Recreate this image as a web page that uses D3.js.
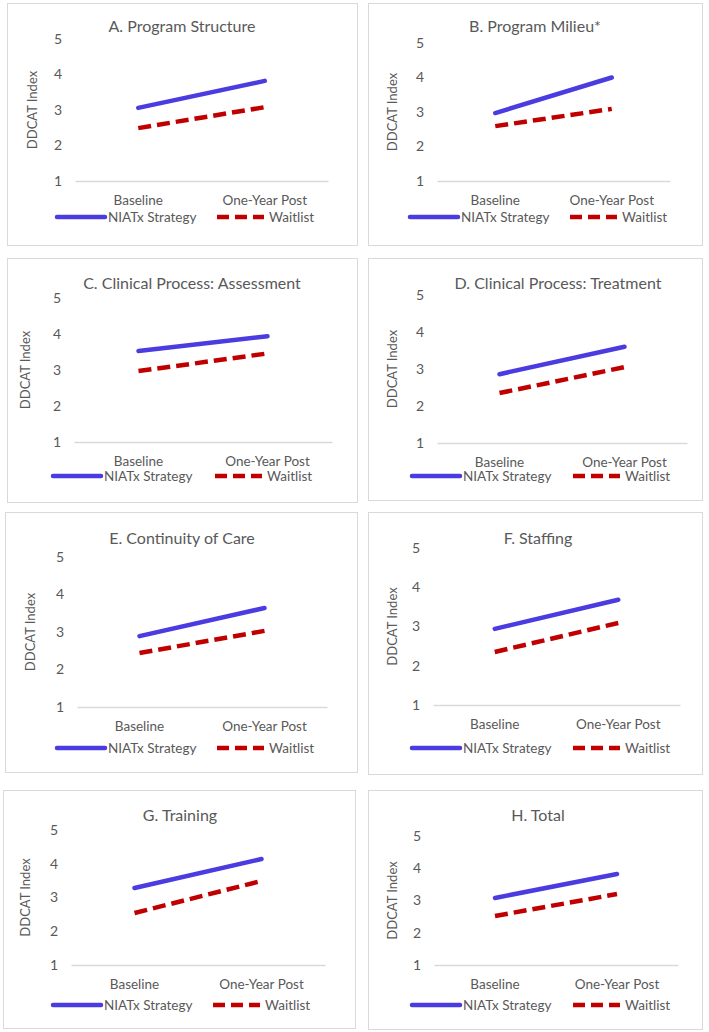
<!DOCTYPE html>
<html>
<head>
<meta charset="utf-8">
<script src="https://cdn.jsdelivr.net/npm/d3@7"></script>
<style>
  body { margin: 0; background: #fff; }
  svg text { font-family: Lato, 'Open Sans', sans-serif; fill: #595959; }
</style>
</head>
<body>
<svg width="709" height="1032"></svg>
<script>
// data
const categories = ['Baseline', 'One-Year Post']
const titles = [
  'A. Program Structure', 'B. Program Milieu*',
  'C. Clinical Process: Assessment', 'D. Clinical Process: Treatment',
  'E. Continuity of Care', 'F. Staffing',
  'G. Training', 'H. Total'
]
const niatx = [
  [3.06, 3.82], [2.97, 4.00], [3.53, 3.94], [2.86, 3.60],
  [2.89, 3.64], [2.94, 3.68], [3.28, 4.14], [3.08, 3.82]
]
const waitlist = [
  [2.49, 3.08], [2.59, 3.09], [2.97, 3.46], [2.35, 3.05],
  [2.44, 3.03], [2.35, 3.09], [2.54, 3.49], [2.52, 3.20]
]
const yTicks = [1, 2, 3, 4, 5]
const seriesNames = ['NIATx Strategy', 'Waitlist']

// panel layout (pixels), one per chart
const layout = [
  { box: [7, 3, 357, 245], px: [75, 328], py: [39, 181], yt: 32, tx: 182, ty: 26, ly: 217, lb: 57, lr: 217 },
  { box: [368, 3, 702, 245], px: [437, 670], py: [43, 181], yt: 392, tx: 535, ty: 26, ly: 217, lb: 410, lr: 570 },
  { box: [7, 258, 357, 502], px: [74, 332], py: [298, 442], yt: 25, tx: 192, ty: 283, ly: 476, lb: 53, lr: 215 },
  { box: [368, 258, 702, 500], px: [437, 687], py: [295, 443], yt: 392, tx: 558, ty: 283, ly: 476, lb: 412, lr: 573 },
  { box: [5, 512, 357, 772], px: [77, 327], py: [557, 707], yt: 30, tx: 182, ty: 538, ly: 748, lb: 57, lr: 217 },
  { box: [368, 512, 702, 774], px: [433, 680], py: [548, 705], yt: 392, tx: 538, ty: 538, ly: 748, lb: 412, lr: 573 },
  { box: [3, 790, 355, 1028], px: [71, 325], py: [830, 965], yt: 25, tx: 180, ty: 815, ly: 1005, lb: 53, lr: 213 },
  { box: [368, 790, 702, 1029], px: [434, 678], py: [836, 965], yt: 392, tx: 538, ty: 815, ly: 1005, lb: 412, lr: 573 }
]

const blue = '#4a3ce0'
const red = '#c00000'
const svg = d3.select('svg')

layout.forEach(function (p, i) {
  const g = svg.append('g').attr('class', 'panel')

  // frame
  g.append('rect')
    .attr('x', p.box[0] + 0.5)
    .attr('y', p.box[1] + 0.5)
    .attr('width', p.box[2] - p.box[0])
    .attr('height', p.box[3] - p.box[1])
    .style('fill', '#fff')
    .style('stroke', '#d9d9d9')

  const x = d3.scaleBand().domain(categories).range(p.px)
  const y = d3.scaleLinear().domain([1, 5]).range([p.py[1], p.py[0]])

  // title
  g.append('text')
    .attr('x', p.tx)
    .attr('y', p.ty)
    .attr('dy', '0.35em')
    .style('text-anchor', 'middle')
    .style('font-size', '16px')
    .text(titles[i])

  // y axis, labels only
  const ya = g.append('g')
    .attr('transform', 'translate(' + p.px[0] + ',0)')
    .call(d3.axisLeft(y).tickValues(yTicks).tickSize(0).tickPadding(13).tickFormat(d3.format('d')))
  ya.select('.domain').remove()
  ya.selectAll('text').style('font-size', '14px').style('font-family', null).attr('fill', null)

  // x axis line at 1
  const xa = g.append('g')
    .attr('transform', 'translate(0,' + p.py[1] + ')')
    .call(d3.axisBottom(x).tickSize(0).tickPadding(14))
  xa.select('.domain').attr('stroke', '#d9d9d9').attr('stroke-width', 1.3)
  xa.selectAll('text').style('font-size', '13.5px').style('font-family', null).attr('fill', null)

  // y axis title
  g.append('text')
    .attr('transform', 'translate(' + p.yt + ',' + (p.py[0] + p.py[1]) / 2 + ') rotate(-90)')
    .attr('dy', '0.35em')
    .style('text-anchor', 'middle')
    .style('font-size', '13px')
    .text('DDCAT Index')

  const line = d3.line()
    .x(function (d, j) { return x(categories[j]) + x.bandwidth() / 2 })
    .y(function (d) { return y(d) })

  g.append('path')
    .attr('d', line(niatx[i]))
    .style('fill', 'none')
    .style('stroke', blue)
    .style('stroke-width', 4.5)
    .style('stroke-linecap', 'round')

  g.append('path')
    .attr('d', line(waitlist[i]))
    .style('fill', 'none')
    .style('stroke', red)
    .style('stroke-width', 4.5)
    .style('stroke-dasharray', '13,6')

  // legend
  const leg = g.append('g').attr('class', 'legend')
  leg.append('line')
    .attr('x1', p.lb).attr('x2', p.lb + 48)
    .attr('y1', p.ly).attr('y2', p.ly)
    .style('stroke', blue).style('stroke-width', 4.5).style('stroke-linecap', 'round')
  leg.append('text')
    .attr('x', p.lb + 51).attr('y', p.ly).attr('dy', '0.35em')
    .style('font-size', '13.5px')
    .text(seriesNames[0])
  leg.append('line')
    .attr('x1', p.lr).attr('x2', p.lr + 47)
    .attr('y1', p.ly).attr('y2', p.ly)
    .style('stroke', red).style('stroke-width', 4.5).style('stroke-dasharray', '12,6')
  leg.append('text')
    .attr('x', p.lr + 52).attr('y', p.ly).attr('dy', '0.35em')
    .style('font-size', '13.5px')
    .text(seriesNames[1])
})
</script>
</body>
</html>
